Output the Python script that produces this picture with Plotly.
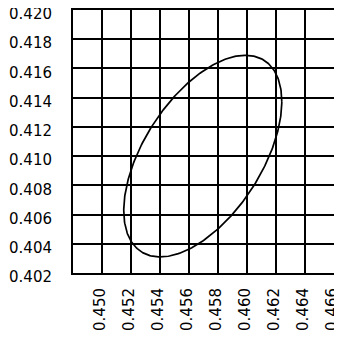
import numpy as np
import plotly.graph_objects as go

# Axis ticks
x_ticks = [0.450, 0.452, 0.454, 0.456, 0.458, 0.460, 0.462, 0.464, 0.466]
y_ticks = [0.402, 0.404, 0.406, 0.408, 0.410, 0.412, 0.414, 0.416, 0.418, 0.420]
x_range = [0.448, 0.466]
y_range = [0.402, 0.420]

# Ellipse parameters
ellipse_center = [0.45695, 0.4100]      # (x, y)
ellipse_halfwidth = [0.00545, 0.0069]   # half extent in x, y
ellipse_corr = [0.54]                   # correlation

t = np.linspace(0, 2 * np.pi, 361)
rho = ellipse_corr[0]
ex = ellipse_center[0] + ellipse_halfwidth[0] * np.cos(t)
ey = ellipse_center[1] + ellipse_halfwidth[1] * (rho * np.cos(t) + np.sqrt(1 - rho ** 2) * np.sin(t))

fig = go.Figure()
fig.add_trace(go.Scatter(x=ex, y=ey, mode="lines",
                         line=dict(color="black", width=1.7),
                         hoverinfo="skip", showlegend=False))

font = dict(family="DejaVu Sans", size=15, color="black")
# page body has an 8px margin, so the figure is drawn 8px smaller
fig.update_layout(
    width=334, height=333,
    margin=dict(l=65, r=8, t=2, b=68, autoexpand=False),
    paper_bgcolor="white", plot_bgcolor="white",
    showlegend=False,
    font=font,
)
fig.update_xaxes(range=x_range, tickvals=x_ticks,
                 ticktext=[f"{v:.3f}" for v in x_ticks],
                 tickangle=-90, showgrid=True, gridcolor="black", gridwidth=2,
                 showline=True, linecolor="black", linewidth=2, mirror=True,
                 zeroline=False, ticks="", ticklabelstandoff=7, ticklabelshift=-2,
                 tickfont=font, ticklabeloverflow="allow", automargin=False)
fig.update_yaxes(range=y_range, tickvals=y_ticks,
                 ticktext=[f"{v:.3f}" for v in y_ticks],
                 showgrid=True, gridcolor="black", gridwidth=2,
                 showline=True, linecolor="black", linewidth=2, mirror=True,
                 zeroline=False, ticks="", ticklabelstandoff=16, ticklabelshift=4,
                 tickfont=font, ticklabeloverflow="allow", automargin=False)

fig.write_html("out.html")
